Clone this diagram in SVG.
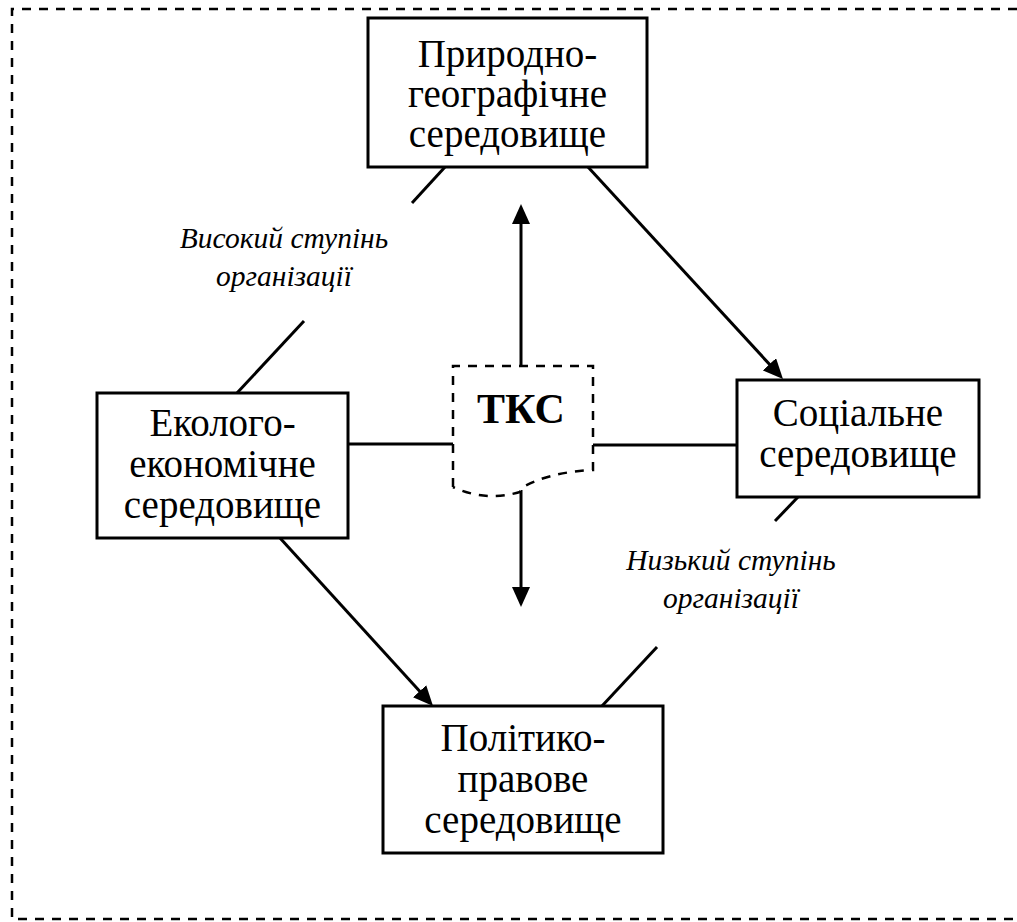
<svg xmlns="http://www.w3.org/2000/svg" width="1017" height="922" viewBox="0 0 1017 922">
<style>
.box{fill:#fff;stroke:#000;stroke-width:3}
.t{font-family:"Liberation Serif","Times New Roman",serif;font-size:39px;fill:#000;text-anchor:middle}
.lbl{font-family:"Liberation Serif","Times New Roman",serif;font-size:29.5px;font-style:italic;fill:#000;text-anchor:middle}
.ln{stroke:#000;stroke-width:3;fill:none}
.dash{stroke:#000;stroke-width:2.5;fill:none;stroke-dasharray:9 8}
</style>
<defs>
<marker id="ah" viewBox="0 0 20 18" refX="10" refY="9" markerWidth="20" markerHeight="18" markerUnits="userSpaceOnUse" orient="auto">
<path d="M0,0 L20,9 L0,18 Z" fill="#000"/>
</marker>
</defs>
<path id="frame" class="dash" d="M1017,9 H12 V919 H1017"/>
<g id="connectors">
<line class="ln" x1="445" y1="167" x2="412" y2="203"/>
<line class="ln" x1="304" y1="321" x2="237" y2="393"/>
<line class="ln" x1="588" y1="167" x2="776.2" y2="371.6" marker-end="url(#ah)"/>
<line class="ln" x1="280" y1="538" x2="426.3" y2="698.6" marker-end="url(#ah)"/>
<line class="ln" x1="798" y1="497" x2="775" y2="521"/>
<line class="ln" x1="657" y1="647" x2="602" y2="706"/>
<line class="ln" x1="521" y1="366" x2="521" y2="214" marker-end="url(#ah)"/>
<line class="ln" x1="521" y1="490" x2="521" y2="597" marker-end="url(#ah)"/>
<line class="ln" x1="348" y1="444" x2="453" y2="444"/>
<line class="ln" x1="593" y1="445" x2="737" y2="445"/>
</g>
<g id="tks">
<path d="M453,487 V366 H593 V470 Q550,472 523,487 L520,492 Q485,502 453,487 Z" fill="#fff" stroke="none"/>
<path class="dash" d="M453,487 V366 H593 V470 Q550,472 523,487 L520,492 Q485,502 453,487"/>
<text x="521" y="423" class="t" style="font-weight:bold;font-size:42px">ТКС</text>
</g>
<g id="pryrodno">
<rect class="box" x="368" y="18" width="279" height="149"/>
<text class="t" x="507.5" y="67">Природно-</text>
<text class="t" x="507.5" y="107">географічне</text>
<text class="t" x="507.5" y="147">середовище</text>
</g>
<g id="ekologo">
<rect class="box" x="97" y="393" width="251" height="145"/>
<text class="t" x="222.5" y="436">Еколого-</text>
<text class="t" x="222.5" y="477">економічне</text>
<text class="t" x="222.5" y="518">середовище</text>
</g>
<g id="social">
<rect class="box" x="737" y="380" width="242" height="117"/>
<text class="t" x="858" y="426">Соціальне</text>
<text class="t" x="858" y="467">середовище</text>
</g>
<g id="polityko">
<rect class="box" x="383" y="706" width="280" height="147"/>
<text class="t" x="523" y="751">Політико-</text>
<text class="t" x="523" y="792">правове</text>
<text class="t" x="523" y="833">середовище</text>
</g>
<g id="label-high">
<text class="lbl" x="284" y="248">Високий ступінь</text>
<text class="lbl" x="284" y="286">організації</text>
</g>
<g id="label-low">
<text class="lbl" x="731" y="570">Низький ступінь</text>
<text class="lbl" x="731" y="608">організації</text>
</g>
</svg>
